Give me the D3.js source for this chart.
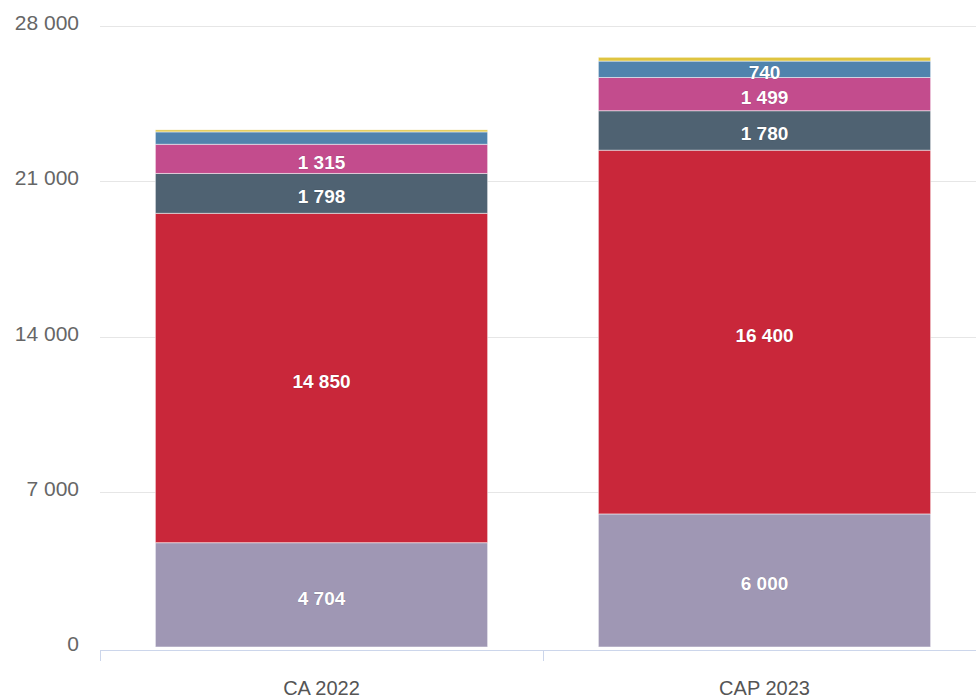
<!DOCTYPE html>
<html>
<head>
  <title>CA 2022 / CAP 2023</title>
  <script src="https://d3js.org/d3.v7.min.js"></script>
  <style>
    body { margin: 0; background: #fff; }
    text { font-family: "Liberation Sans", Arial, sans-serif; }
  </style>
</head>
<body>
  <script>
    // data
    const categories = ["CA 2022", "CAP 2023"];
    const seriesNames = ["s1", "s2", "s3", "s4", "s5", "s6"];
    const seriesColors = ["#9f97b4", "#c9273a", "#4f6272", "#c34c8d", "#5083ad", "#dfc440"];
    // values per series, one entry per category
    const s1 = [4704, 6000];
    const s2 = [14850, 16400];
    const s3 = [1798, 1780];
    const s4 = [1315, 1499];
    const s5 = [560, 740];
    const s6 = [90, 170];
    const yTicks = [0, 7000, 14000, 21000, 28000];

    const series = [s1, s2, s3, s4, s5, s6];
    const rows = categories.map((c, i) => {
      let r = { cat: c };
      seriesNames.forEach((n, j) => r[n] = series[j][i]);
      return r;
    });

    const width = 976, height = 698;
    const fmt = v => d3.format(",")(v).replace(/,/g, " ");

    let svg = d3.select("body").append("svg")
      .attr("width", width)
      .attr("height", height);

    let x = d3.scaleBand()
      .domain(categories)
      .range([100, 986])
      .paddingInner(0.25)
      .paddingOuter(0.125);

    let y = d3.scaleLinear()
      .domain([0, 28000])
      .range([647, 26]);

    // grid
    svg.append("g")
      .selectAll("line")
      .data(yTicks.filter(t => t > 0))
      .enter().append("line")
      .attr("x1", 100).attr("x2", width)
      .attr("y1", d => Math.round(y(d)) + 0.5)
      .attr("y2", d => Math.round(y(d)) + 0.5)
      .attr("stroke", "#e6e6e6");

    // y labels
    svg.append("g")
      .selectAll("text")
      .data(yTicks)
      .enter().append("text")
      .attr("x", 79)
      .attr("y", d => y(d) + 4)
      .attr("text-anchor", "end")
      .attr("font-size", "21px")
      .attr("fill", "#666")
      .text(d => fmt(d));

    // stacked bars
    let stack = d3.stack().keys(seriesNames)(rows);

    let layers = svg.append("g")
      .selectAll("g")
      .data(stack)
      .enter().append("g")
      .attr("fill", (d, i) => seriesColors[i]);

    layers.selectAll("rect")
      .data(d => d)
      .enter().append("rect")
      .attr("x", d => x(d.data.cat))
      .attr("width", x.bandwidth())
      .attr("y", d => y(d[1]))
      .attr("height", d => y(d[0]) - y(d[1]))
      .attr("stroke", "#fff")
      .attr("stroke-opacity", 0.5)
      .attr("stroke-width", 1);

    // segment labels (only where there is room)
    layers.selectAll("text")
      .data(d => d.filter(v => v[1] - v[0] >= 700))
      .enter().append("text")
      .attr("x", d => x(d.data.cat) + x.bandwidth() / 2)
      .attr("y", d => (y(d[0]) + y(d[1])) / 2 + 10)
      .attr("text-anchor", "middle")
      .attr("font-size", "19px")
      .attr("font-weight", "bold")
      .attr("fill", "#fff")
      .attr("stroke", "rgba(0,0,0,0.25)")
      .attr("stroke-width", 0.6)
      .attr("paint-order", "stroke")
      .text(d => fmt(d[1] - d[0]));

    // x axis
    let xa = svg.append("g");
    xa.append("line")
      .attr("x1", 100).attr("x2", width)
      .attr("y1", 650.5).attr("y2", 650.5)
      .attr("stroke", "#ccd6eb");
    xa.selectAll(".tick")
      .data([0, 1, 2])
      .enter().append("line")
      .attr("x1", i => Math.round(100 + i * x.step()) + 0.5)
      .attr("x2", i => Math.round(100 + i * x.step()) + 0.5)
      .attr("y1", 650).attr("y2", 661)
      .attr("stroke", "#ccd6eb");
    xa.selectAll("text")
      .data(categories)
      .enter().append("text")
      .attr("x", d => x(d) + x.bandwidth() / 2)
      .attr("y", 695)
      .attr("text-anchor", "middle")
      .attr("font-size", "20px")
      .attr("fill", "#555")
      .text(d => d);
  </script>
</body>
</html>
